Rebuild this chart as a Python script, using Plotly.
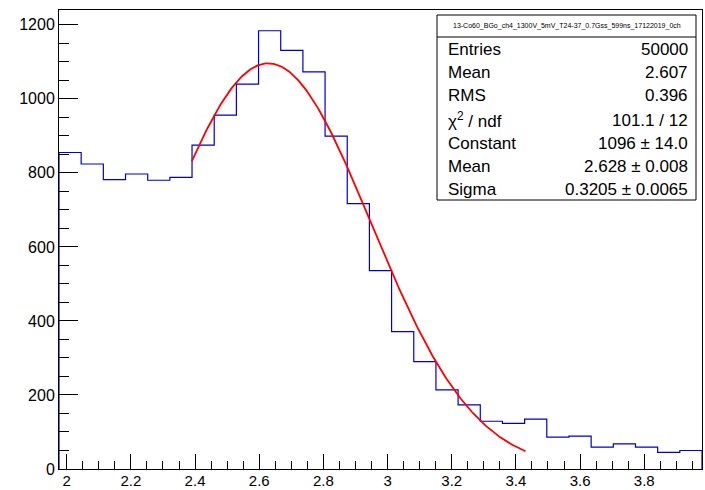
import numpy as np
import plotly.graph_objects as go

x_min, x_max, n_bins = 1.976, 3.98, 29
counts = [855, 824, 782, 797, 780, 788, 875, 956, 1040, 1184, 1131, 1073, 899, 717, 536,
          371, 290, 214, 173, 129, 123, 135, 86, 89, 59, 68, 59, 45, 50]
fit_const, fit_mean, fit_sigma = 1096, 2.628, 0.3205
fit_range = (2.39, 3.43)
stats_labels = ["Entries", "Mean", "RMS", "χ<sup>2</sup> / ndf", "Constant", "Mean", "Sigma"]
stats_values = ["50000", "2.607", "0.396", "101.1 / 12", "1096 ± 14.0", "2.628 ± 0.008", "0.3205 ± 0.0065"]
title = "13-Co60_BGo_ch4_1300V_5mV_T24-37_0.7Gss_599ns_17122019_0ch"
x_ticks = [2, 2.2, 2.4, 2.6, 2.8, 3, 3.2, 3.4, 3.6, 3.8]

edges = np.linspace(x_min, x_max, n_bins + 1)
sx = [edges[0]]; sy = [0]
for i, c in enumerate(counts):
    sx += [edges[i], edges[i + 1]]; sy += [c, c]
sx.append(edges[-1]); sy.append(0)

fx = np.linspace(fit_range[0], fit_range[1], 300)
fy = fit_const * np.exp(-0.5 * ((fx - fit_mean) / fit_sigma) ** 2)

fig = go.Figure()
fig.add_trace(go.Scatter(x=sx, y=sy, mode="lines", line=dict(color="#0000cc", width=1.2), hoverinfo="skip"))
fig.add_trace(go.Scatter(x=fx, y=fy, mode="lines", line=dict(color="#ff0000", width=1.8), hoverinfo="skip"))

W, H = 705, 490
L, R, T, B = 59, 3, 10, 21
fig.update_layout(width=W, height=H, margin=dict(l=L, r=R, t=T, b=B, autoexpand=False), showlegend=False,
                  plot_bgcolor="white", paper_bgcolor="white",
                  font=dict(family="Liberation Sans, Arial", size=16, color="black"))
fig.update_xaxes(range=[x_min, x_max], showgrid=False, zeroline=False, showline=True, mirror=True,
                 linecolor="black", linewidth=1, ticks="inside", ticklen=15, tickcolor="black",
                 tickvals=x_ticks, ticktext=[f"{v:g}" for v in x_ticks], automargin=False,
                 ticklabelstandoff=-2, tickfont=dict(size=15),
                 minor=dict(ticks="inside", ticklen=8, dtick=0.05, tick0=2, tickcolor="black"))
fig.update_yaxes(range=[0, 1240], showgrid=False, zeroline=False, showline=True, mirror=True,
                 linecolor="black", linewidth=1, ticks="inside", ticklen=19, tickcolor="black",
                 dtick=200, automargin=False,
                 minor=dict(ticks="inside", ticklen=10, dtick=50, tickcolor="black"))

def ax(xp): return (xp - L) / (W - L - R)
def ay(yp): return (H - B - yp) / (H - T - B)
bx0, bx1, by0, by1, byt = 437, 696, 15, 200, 37
fig.add_shape(type="rect", xref="paper", yref="paper", x0=ax(bx0), x1=ax(bx1), y0=ay(by1), y1=ay(by0),
              line=dict(color="black", width=1), fillcolor="white", layer="above")
fig.add_shape(type="line", xref="paper", yref="paper", x0=ax(bx0), x1=ax(bx1), y0=ay(byt), y1=ay(byt),
              line=dict(color="black", width=1))
fig.add_annotation(xref="paper", yref="paper", x=ax((bx0 + bx1) / 2), y=ay(26), text=title, showarrow=False,
                   font=dict(size=7), xanchor="center", yanchor="middle")
rows = [49, 72, 96, 120, 143, 166, 189]
for lab, val, yy in zip(stats_labels, stats_values, rows):
    fig.add_annotation(xref="paper", yref="paper", x=ax(446), y=ay(yy), text=lab, showarrow=False,
                       font=dict(size=17), xanchor="left", yanchor="middle")
    fig.add_annotation(xref="paper", yref="paper", x=ax(690), y=ay(yy), text=val, showarrow=False,
                       font=dict(size=17), xanchor="right", yanchor="middle")

fig.write_html("out.html", config={"displayModeBar": False})
with open("out.html", encoding="utf-8") as f:
    html = f.read()
html = html.replace("<body>", '<body style="margin:0;overflow:hidden">', 1)
with open("out.html", "w", encoding="utf-8") as f:
    f.write(html)
